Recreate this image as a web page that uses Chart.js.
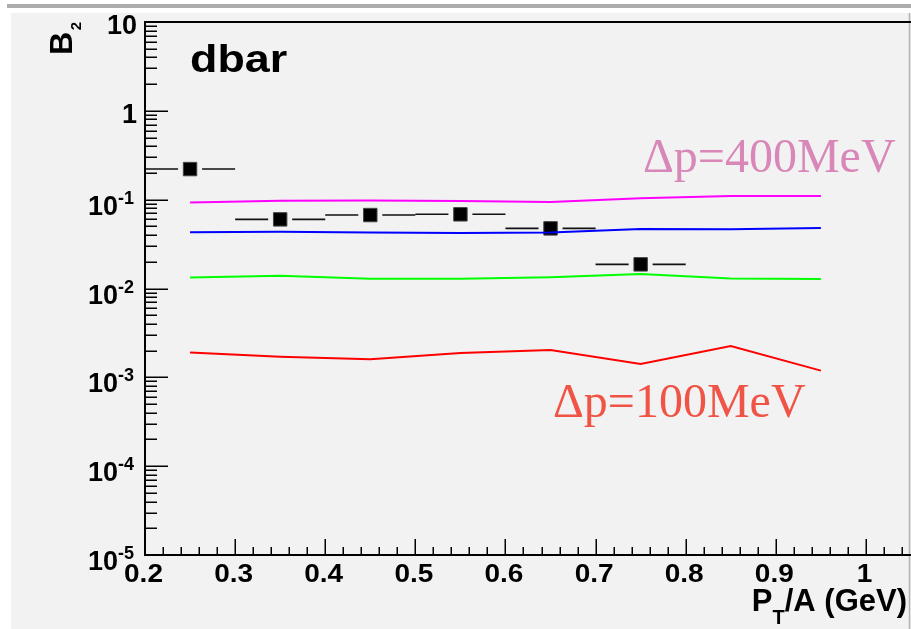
<!DOCTYPE html>
<html>
<head>
<meta charset="utf-8">
<script src="https://cdn.jsdelivr.net/npm/chart.js@4/dist/chart.umd.min.js"></script>
<style>
  html, body { margin: 0; padding: 0; background: #fff; }
  canvas { display: block; }
</style>
</head>
<body>
<canvas id="b2chart" width="911" height="629"></canvas>
<script>
// pT/A bin centres of the model curves (GeV)
const ptBins = [0.25, 0.35, 0.45, 0.55, 0.65, 0.75, 0.85, 0.95];
// coalescence B2 for different momentum widths
const dp400 = [0.093, 0.097, 0.098, 0.0967, 0.094, 0.104, 0.110, 0.110];
const dp300 = [0.0429, 0.0436, 0.0428, 0.0421, 0.0428, 0.0467, 0.0464, 0.048];
const dp200 = [0.0133, 0.0139, 0.0129, 0.0129, 0.0134, 0.0146, 0.0130, 0.0128];
const dp100 = [0.00190, 0.00171, 0.00160, 0.00188, 0.00203, 0.00141, 0.00225, 0.00119];
// measured dbar points
const dataPt = [0.25, 0.35, 0.45, 0.55, 0.65, 0.75];
const dataB2 = [0.221, 0.060, 0.0671, 0.0684, 0.0475, 0.0187];
const dataPtErr = [0.05, 0.05, 0.05, 0.05, 0.05, 0.05];
// axis labels
const xTickValues = [0.2, 0.3, 0.4, 0.5, 0.6, 0.7, 0.8, 0.9, 1.0];
const xTickLabels = ['0.2', '0.3', '0.4', '0.5', '0.6', '0.7', '0.8', '0.9', '1'];
const yTickExp = [1, 0, -1, -2, -3, -4, -5];

const SANS = '"Liberation Sans", Arial, sans-serif';
const SERIF = '"Liberation Serif", "Times New Roman", serif';

const toXY = (xs, ys) => xs.map((x, i) => ({ x: x, y: ys[i] }));

function putText(ctx, txt, x, y, align, sx) {
  ctx.save();
  ctx.translate(x, y);
  ctx.scale(sx || 1, 1);
  ctx.textAlign = align;
  ctx.textBaseline = 'alphabetic';
  ctx.fillText(txt, 0, 0);
  ctx.restore();
}

const rootStyle = {
  id: 'rootStyle',
  beforeDraw(chart) {
    const ctx = chart.ctx;
    ctx.save();
    ctx.fillStyle = '#ffffff';
    ctx.fillRect(0, 0, 911, 629);
    ctx.fillStyle = '#adadad';
    ctx.fillRect(7, 4, 904, 4);
    ctx.fillStyle = '#f2f2f2';
    ctx.fillRect(11, 13, 900, 616);
    ctx.restore();
  },
  beforeDatasetsDraw(chart) {
    // horizontal error bars, with a gap round the marker
    const ctx = chart.ctx;
    const xs = chart.scales.x, ys = chart.scales.y;
    ctx.save();
    ctx.strokeStyle = '#111';
    ctx.lineWidth = 1.6;
    dataPt.forEach((pt, i) => {
      const px = xs.getPixelForValue(pt);
      const py = ys.getPixelForValue(dataB2[i]);
      const lo = xs.getPixelForValue(pt - dataPtErr[i]);
      const hi = xs.getPixelForValue(pt + dataPtErr[i]);
      ctx.beginPath();
      ctx.moveTo(lo, py); ctx.lineTo(px - 12, py);
      ctx.moveTo(px + 12, py); ctx.lineTo(hi, py);
      ctx.stroke();
    });
    ctx.restore();
  },
  afterDraw(chart) {
    const ctx = chart.ctx;
    const area = chart.chartArea;
    const xs = chart.scales.x, ys = chart.scales.y;
    ctx.save();

    // right pad edge
    ctx.strokeStyle = '#b4b4b4';
    ctx.lineWidth = 1.5;
    ctx.beginPath();
    ctx.moveTo(909.5, 13); ctx.lineTo(909.5, 629);
    ctx.stroke();

    // frame
    ctx.strokeStyle = '#000';
    ctx.lineWidth = 2;
    ctx.beginPath();
    ctx.moveTo(area.right, area.top); ctx.lineTo(area.left, area.top);
    ctx.lineTo(area.left, area.bottom); ctx.lineTo(area.right, area.bottom);
    ctx.stroke();

    // y ticks (log)
    ctx.lineWidth = 1.5;
    ctx.beginPath();
    for (let e = -5; e <= 1; e++) {
      for (let m = 1; m <= 9; m++) {
        const v = m * Math.pow(10, e);
        if (v > 10.0001) break;
        const py = Math.round(ys.getPixelForValue(v)) + 0.25;
        ctx.moveTo(area.left, py);
        ctx.lineTo(area.left + (m === 1 ? 23 : 12), py);
      }
    }
    // x ticks
    for (let k = 0; k <= 42; k++) {
      const v = 0.2 + 0.02 * k;
      const px = Math.round(xs.getPixelForValue(v)) + 0.25;
      ctx.moveTo(px, area.bottom);
      ctx.lineTo(px, area.bottom - (k % 5 === 0 ? 16 : 8));
    }
    ctx.stroke();

    // y tick labels
    ctx.fillStyle = '#000';
    yTickExp.forEach(e => {
      const py = ys.getPixelForValue(Math.pow(10, e));
      if (e >= 0) {
        ctx.font = 'bold 27px ' + SANS;
        putText(ctx, e === 1 ? '10' : '1', 137, py + 12, 'right');
      } else {
        ctx.font = 'bold 18px ' + SANS;
        const sup = String(e);
        const w = ctx.measureText(sup).width;
        putText(ctx, sup, 134, py + 4, 'right');
        ctx.font = 'bold 27px ' + SANS;
        putText(ctx, '10', 134 - w, py + 15, 'right');
      }
    });

    // x tick labels
    ctx.font = 'bold 25px ' + SANS;
    xTickValues.forEach((v, i) => {
      const px = xs.getPixelForValue(v);
      putText(ctx, xTickLabels[i], px - 1.5, 581.5, 'center', 1.12);
    });

    // x title: P_T/A (GeV)
    ctx.font = 'bold 31px ' + SANS;
    const wP = ctx.measureText('P').width;
    const wRest = ctx.measureText('/A (GeV)').width;
    ctx.font = 'bold 20px ' + SANS;
    const wT = ctx.measureText('T').width;
    let tx = 907 - (wP + wT + wRest);
    ctx.font = 'bold 31px ' + SANS;
    putText(ctx, 'P', tx, 611, 'left');
    tx += wP;
    ctx.font = 'bold 20px ' + SANS;
    putText(ctx, 'T', tx, 624, 'left');
    tx += wT;
    ctx.font = 'bold 31px ' + SANS;
    putText(ctx, '/A (GeV)', tx, 611, 'left');

    // y title: B_2 (rotated)
    ctx.save();
    ctx.translate(72, 22);
    ctx.rotate(-Math.PI / 2);
    ctx.font = 'bold 15px ' + SANS;
    ctx.textAlign = 'right';
    ctx.fillText('2', 0, 9);
    ctx.font = 'bold 32px ' + SANS;
    ctx.fillText('B', -10, 0);
    ctx.restore();

    // panel label
    ctx.font = 'bold 39px ' + SANS;
    putText(ctx, 'dbar', 190, 72, 'left', 1.15);

    // curve labels
    ctx.font = '48px ' + SERIF;
    ctx.fillStyle = '#d987b8';
    putText(ctx, '\u0394p=400MeV', 643, 171.5, 'left');
    ctx.fillStyle = '#f05446';
    putText(ctx, '\u0394p=100MeV', 553, 416.5, 'left');

    ctx.restore();
  }
};

const lineSet = (label, ys, color) => ({
  label: label,
  data: toXY(ptBins, ys),
  borderColor: color,
  borderWidth: 2,
  pointRadius: 0,
  tension: 0,
  fill: false
});

new Chart(document.getElementById('b2chart'), {
  type: 'line',
  data: {
    datasets: [
      lineSet('dp=400MeV', dp400, '#ff00ff'),
      lineSet('dp=300MeV', dp300, '#0000ff'),
      lineSet('dp=200MeV', dp200, '#00ff00'),
      lineSet('dp=100MeV', dp100, '#ff0000'),
      {
        label: 'dbar',
        data: toXY(dataPt, dataB2),
        showLine: false,
        pointStyle: 'rect',
        pointRadius: 9.5,
        backgroundColor: '#000',
        borderColor: '#444',
        borderWidth: 1
      }
    ]
  },
  options: {
    responsive: false,
    animation: false,
    devicePixelRatio: 1,
    layout: { autoPadding: false, padding: { left: 145, top: 22, right: 0, bottom: 74 } },
    scales: {
      x: { type: 'linear', min: 0.2, max: 1.05, display: false },
      y: { type: 'logarithmic', min: 1e-5, max: 10, display: false }
    },
    plugins: {
      legend: { display: false },
      tooltip: { enabled: false }
    }
  },
  plugins: [rootStyle]
});
</script>
</body>
</html>
